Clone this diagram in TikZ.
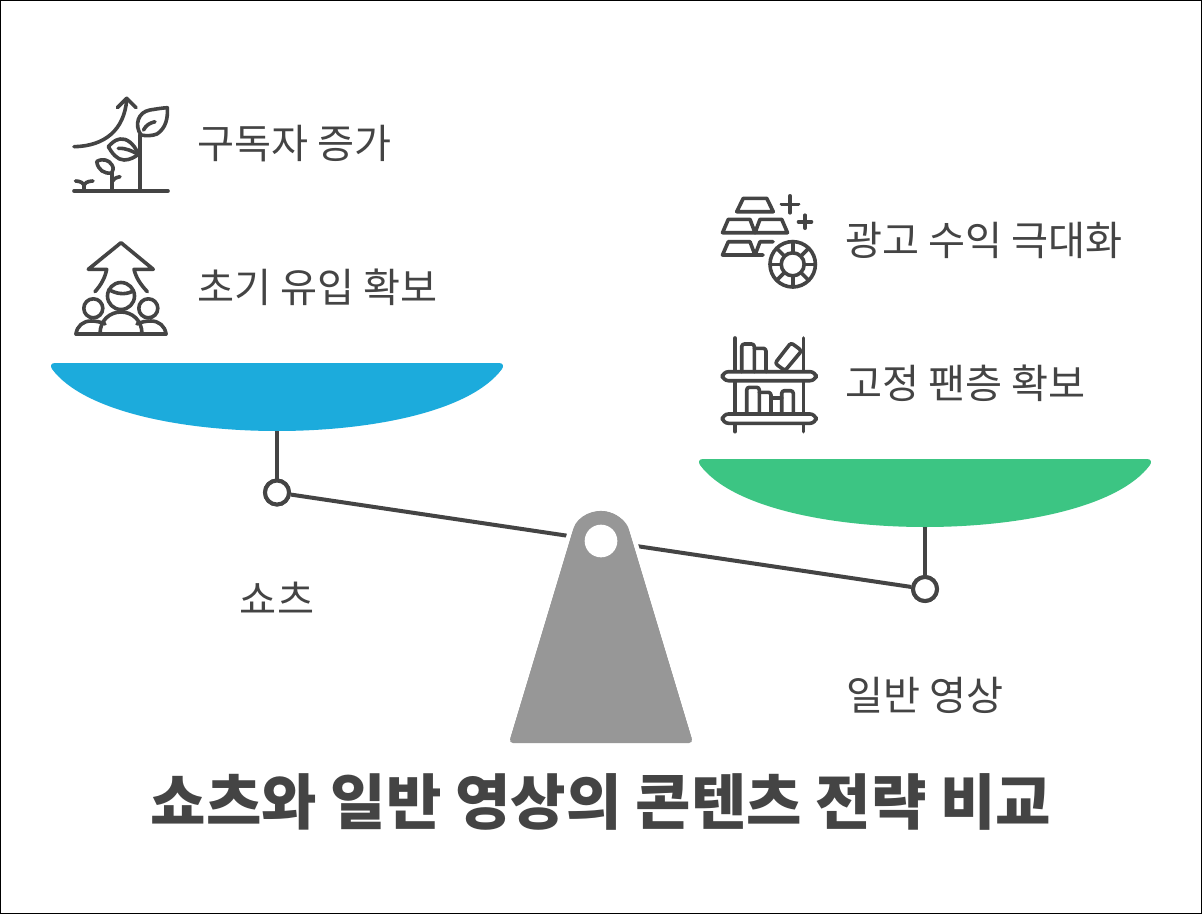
\documentclass[tikz,border=0pt]{standalone}
\usepackage{fontspec}
\setmainfont{Noto Sans CJK KR}
\usetikzlibrary{calc}
\definecolor{ink}{HTML}{444444}
\definecolor{panblue}{HTML}{1CABDC}
\definecolor{pangreen}{HTML}{3CC583}
\definecolor{basegray}{HTML}{979797}
\tikzset{
  x=0.75pt,y=-0.75pt,
  ico/.style={draw=ink,line width=2.7pt,line cap=round,line join=round},
  lab/.style={text=ink,inner sep=0pt,font=\fontsize{30.2pt}{36pt}\selectfont,anchor=west},
  hinge/.style={circle,draw=ink,fill=white,line width=3pt,minimum size=18pt,inner sep=0pt},
  beam/.style={draw=ink,line width=3pt},
}
\begin{document}
\begin{tikzpicture}
\useasboundingbox (0,0) rectangle (1202,914);
\fill[white] (0,0) rectangle (1202,914);
\draw[black,line width=1pt] (0.7,0.7) rectangle (1201.3,913.3);

% pans
\fill[panblue] (55,363) -- (499,363) .. controls (503,363) and (504,366) .. (502,369) .. controls (470,412) and (370,431) .. (277,431) .. controls (184,431) and (84,412) .. (52,369) .. controls (50,366) and (51,363) .. (55,363) -- cycle;
\fill[pangreen] (703,459) -- (1147,459) .. controls (1151,459) and (1152,462) .. (1150,465) .. controls (1118,508) and (1018,527) .. (925,527) .. controls (832,527) and (732,508) .. (700,465) .. controls (698,462) and (699,459) .. (703,459) -- cycle;

% scale
\coordinate (lp) at (277,431);
\coordinate (rp) at (925,527);
\node[hinge] (lh) at (277,492.5) {};
\node[hinge] (rh) at (925,589) {};
\draw[beam] (lp) -- (lh.north);
\draw[beam] (rp) -- (rh.north);
\draw[beam] (lh) -- (rh);
\node[hinge] at (277,492.5) {};
\node[hinge] at (925,589) {};
\draw[fill=basegray,draw=white,line width=3.5pt,line join=round]
  (570.1,531.6) arc (197:343:32.3) -- (695,741) -- (507,741) -- cycle;
\fill[basegray,rounded corners=3pt] (572.3,532.2) arc (197:343:30) -- (693,743) -- (509,743) -- cycle;
\node[circle,fill=white,minimum size=24.5pt,inner sep=0pt] (pv) at (601,541) {};

% labels
\node[lab] (t1) at (197,144) {구독자 증가};
\node[lab] (t2) at (197,287) {초기 유입 확보};
\node[lab] (t3) at (845,240) {광고 수익 극대화};
\node[lab] (t4) at (845,383) {고정 팬층 확보};
\node[lab,anchor=center] (t5) at (277,598) {쇼츠};
\node[lab,anchor=center] (t6) at (925,695) {일반 영상};
\node[text=ink,inner sep=0pt,font=\fontsize{45.2pt}{54pt}\selectfont\bfseries] (title) at (601,802) {쇼츠와 일반 영상의 콘텐츠 전략 비교};

% icon 1: plants
\draw[ico] (74,191) -- (168,191);
\draw[ico] (74,146.7) .. controls (105,146) and (124,130) .. (126.7,100);
\draw[ico] (117.3,107.7) -- (126.7,98.3) -- (136,107.7);
\draw[ico] (140,191) -- (140,135);
\draw[ico] (141,135) .. controls (134,125) and (138,112) .. (150,110) .. controls (156,109) and (162,108) .. (167.3,107.7) .. controls (168,118) and (166,128) .. (157,134) .. controls (152,136) and (146,136) .. (141,135);
\draw[ico] (143.5,130) .. controls (146,125) and (150,123) .. (155,121.7);
\draw[ico] (138.3,154.3) .. controls (134,143) and (126,138) .. (120,139) .. controls (114,140) and (111,144) .. (108.3,146.7) .. controls (112,153) and (117,160) .. (124,160) .. controls (130,160) and (135,157) .. (138.3,154.3);
\draw[ico] (118.3,148.3) .. controls (126,148) and (132,151) .. (138.3,154.3);
\draw[ico] (111.7,191) -- (111.7,173);
\draw[ico] (111.7,173) .. controls (104,174) and (98,170) .. (96.7,161.5) .. controls (103,158) and (109,160) .. (112,165) .. controls (114,168) and (113,171) .. (111.7,173);
\draw[ico] (111.7,182) .. controls (113,179) and (116,177.5) .. (120,176.7);
\draw[ico] (84,191) -- (84,186) .. controls (84,183) and (80,181) .. (75.5,181);
\draw[ico] (84,186) .. controls (84,183) and (88,181) .. (93,181);

% icon 2: people and arrow
\draw[ico] (95,291.7) .. controls (101,285) and (105,278) .. (106.7,269.3) -- (88.3,269.3) -- (121,242.7) -- (153.3,269.3) -- (134,269.3) .. controls (136,278) and (141,285) .. (147.3,291.7);
\draw[ico] (121,296) circle (13.5);
\draw[ico] (109,289.5) .. controls (116,294) and (125,295) .. (132,291.5);
\draw[ico] (93.3,308.3) circle (9.5);
\draw[ico] (148.3,308.3) circle (9.5);
\draw[ico] (76,334) -- (166,334);
\draw[ico] (100,334) .. controls (100,320) and (110,312) .. (121,312) .. controls (132,312) and (142,320) .. (142,334);
\draw[ico] (76,334) .. controls (77,326) and (83,321) .. (91,321) .. controls (96,321) and (101,322) .. (105,324);
\draw[ico] (166,334) .. controls (165,326) and (159,321) .. (151,321) .. controls (146,321) and (141,322) .. (137,324);

% icon 3: gold and wheel
\draw[ico] (743.3,198.3) -- (766.7,198.3) -- (773.3,211.7) -- (736.7,211.7) -- cycle;
\draw[ico] (728.3,219.3) -- (750,219.3) -- (755,232.7) -- (722.5,232.7) -- cycle;
\draw[ico] (760,219.3) -- (781.7,219.3) -- (787.5,232.7) -- (755,232.7) -- cycle;
\draw[ico] (728.3,241.7) -- (750,241.7) -- (755,255) -- (722.5,255) -- cycle;
\draw[ico] (773,241.7) -- (760,241.7) -- (755,255) -- (763,255);
\draw[ico] (790,195.8) -- (790,212.8) (781.5,204.3) -- (798.5,204.3);
\draw[ico] (805,215.2) -- (805,228.2) (798.5,221.7) -- (811.5,221.7);
\draw[ico] (792.7,264.3) circle (22.7);
\draw[ico] (792.7,264.3) circle (11.5);
\foreach \a in {0,45,...,315}{
  \draw[ico] ($(792.7,264.3)+(\a:11.5)$) -- ($(792.7,264.3)+(\a:22.7)$);
}

% icon 4: shelves
\draw[ico] (735,338) -- (735,371) (735,381) -- (735,414) (735,424) -- (735,431.7);
\draw[ico] (803.3,338) -- (803.3,371) (803.3,381) -- (803.3,414) (803.3,424) -- (803.3,431.7);
\draw[ico,rounded corners=4.5pt] (722.5,371.7) rectangle (816,380.7);
\draw[ico,rounded corners=4.5pt] (722.5,414) rectangle (816,423.3);
\draw[ico,rounded corners=2pt] (741.7,371.7) -- (741.7,344) -- (754.3,344) -- (754.3,371.7);
\draw[ico,rounded corners=2pt] (754.3,348.3) -- (766,348.3) -- (766,371.7);
\draw[ico,rounded corners=2pt] (791,342.7) -- (801.7,350.7) -- (785,370.7) -- (775,363.3) -- cycle;
\draw[ico,rounded corners=2pt] (746.7,414) -- (746.7,387.3) -- (759.3,387.3) -- (759.3,414);
\draw[ico,rounded corners=2pt] (759.3,392.3) -- (771,392.3) -- (771,414);
\draw[ico] (771,397.7) -- (781.7,397.7);
\draw[ico,rounded corners=2pt] (781.7,414) -- (781.7,390.7) -- (793.3,390.7) -- (793.3,414);
\end{tikzpicture}
\end{document}
